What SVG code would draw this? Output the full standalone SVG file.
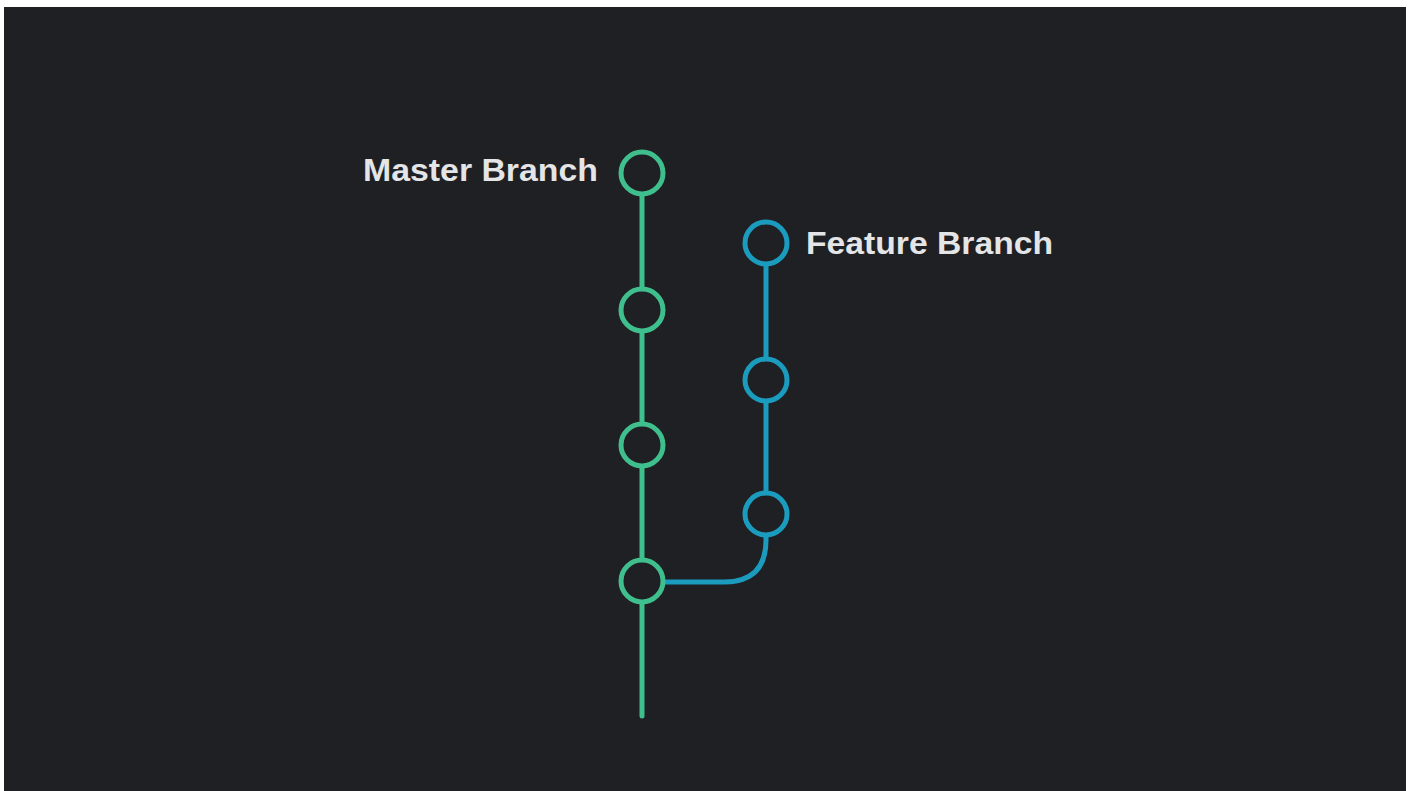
<svg xmlns="http://www.w3.org/2000/svg" width="1415" height="791" viewBox="0 0 1415 791">
  <style>
    .master { stroke: #3fbf8e; }
    .feature { stroke: #1b9cbf; }
    .line { fill: none; stroke-width: 5; stroke-linecap: round; }
    .commit { fill: #1f2023; stroke-width: 5; }
    .label { font-family: "Liberation Sans", Arial, sans-serif; font-weight: bold; font-size: 31px; fill: #e4e5e7; }
  </style>
  <rect x="0" y="0" width="1415" height="791" fill="#ffffff"/>
  <rect x="4" y="7" width="1402" height="784" fill="#1f2023"/>

  <g id="connectors">
    <path class="line master" d="M642 173 V716"/>
    <path class="line feature" d="M766 243 V540 Q766 582 724 582 H642"/>
  </g>

  <g id="master-1"><circle class="commit master" cx="642" cy="173" r="21"/></g>
  <g id="master-2"><circle class="commit master" cx="642" cy="310" r="21"/></g>
  <g id="master-3"><circle class="commit master" cx="642" cy="445" r="21"/></g>
  <g id="master-4"><circle class="commit master" cx="642" cy="581" r="21"/></g>

  <g id="feature-1"><circle class="commit feature" cx="766" cy="243" r="21"/></g>
  <g id="feature-2"><circle class="commit feature" cx="766" cy="380" r="21"/></g>
  <g id="feature-3"><circle class="commit feature" cx="766" cy="514" r="21"/></g>

  <g id="label-master"><text class="label" x="363" y="181" textLength="235" lengthAdjust="spacingAndGlyphs">Master Branch</text></g>
  <g id="label-feature"><text class="label" x="806" y="254" textLength="247" lengthAdjust="spacingAndGlyphs">Feature Branch</text></g>
</svg>
